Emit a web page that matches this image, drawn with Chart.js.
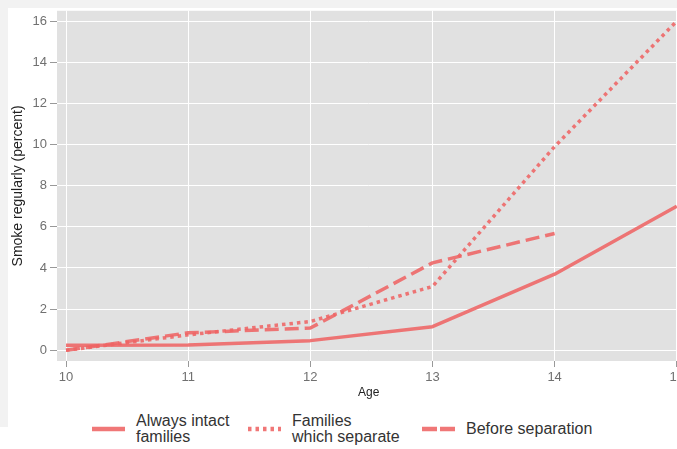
<!DOCTYPE html>
<html>
<head>
<meta charset="utf-8">
<script src="https://cdn.jsdelivr.net/npm/chart.js@4"></script>
<style>
  html, body { margin: 0; padding: 0; }
  body { width: 677px; height: 449px; background: #f2f2f2; position: relative; overflow: hidden; font-family: "Liberation Sans", Arial, sans-serif; }
  #card { position: absolute; left: 8px; top: 8px; width: 669px; height: 441px; background: #fff; }
  #bottomband { position: absolute; left: 0; top: 427px; width: 677px; height: 22px; background: #fff; }
  #wrap { position: absolute; left: 8px; top: 0px; width: 679px; height: 400px; }
  #legend { position: absolute; left: 0; top: 412px; width: 677px; height: 34px; color: #333; font-size: 16px; line-height: 16px; }
  .item { position: absolute; top: 0; height: 34px; display: flex; align-items: center; }
  .item svg { margin-right: 11px; flex: none; }
</style>
</head>
<body>
<div id="card"></div>
<div id="bottomband"></div>
<div id="wrap"><canvas id="c"></canvas></div>
<div id="legend"></div>
<script>
// ---- data ----
const ages = [10, 11, 12, 13, 14, 15];
const alwaysIntact = [0.24, 0.26, 0.47, 1.15, 3.7, 7.0];
const familiesSeparate = [0.0, 0.75, 1.4, 3.1, 9.9, 16.0];
const beforeSeparation = [0.0, 0.85, 1.08, 4.25, 5.68];
const yTickValues = [0, 2, 4, 6, 8, 10, 12, 14, 16];
const xTickValues = [10, 11, 12, 13, 14, 15];
const seriesLabels = [["Always intact", "families"], ["Families", "which separate"], ["Before separation"]];
const yTitle = "Smoke regularly (percent)";
const xTitle = "Age";

const lineColor = "rgba(238,100,100,0.88)";
const toPts = vals => vals.map((v, i) => ({ x: ages[i], y: v }));
const dashes = [[], [3.5, 4], [14, 6]];
const seriesValues = [alwaysIntact, familiesSeparate, beforeSeparation];

const datasets = seriesValues.map((vals, i) => ({
  label: seriesLabels[i].join(" "),
  data: toPts(vals),
  borderColor: lineColor,
  borderWidth: 3.5,
  borderDash: dashes[i],
  borderCapStyle: "butt",
  borderJoinStyle: "round",
  pointRadius: 0,
  tension: 0,
  fill: false
}));

const bgPlugin = {
  id: "plotbg",
  beforeDraw(chart) {
    const { ctx, chartArea: a } = chart;
    ctx.save();
    ctx.fillStyle = "#e1e1e1";
    ctx.fillRect(a.left, a.top, a.right - a.left, a.bottom - a.top);
    ctx.restore();
  }
};

new Chart(document.getElementById("c"), {
  type: "line",
  data: { datasets },
  plugins: [bgPlugin],
  options: {
    responsive: true,
    maintainAspectRatio: false,
    animation: false,
    layout: { padding: 0 },
    plugins: { legend: { display: false }, tooltip: { enabled: false } },
    scales: {
      x: {
        type: "linear",
        min: 9.926,
        max: 15.03,
        afterBuildTicks: s => { s.ticks = xTickValues.map(v => ({ value: v })); },
        afterFit: s => { s.height = 39; },
        grid: { color: "#ffffff", lineWidth: 1, tickColor: "#999", tickLength: 6, drawTicks: true },
        border: { display: false },
        ticks: { color: "#707070", font: { size: 13, family: "Liberation Sans" }, padding: 3, maxRotation: 0 },
        title: { display: true, text: xTitle, color: "#222", font: { size: 12, family: "Liberation Sans" }, padding: { top: 0, bottom: 0 } }
      },
      y: {
        min: -0.52,
        max: 16.5,
        afterBuildTicks: s => { s.ticks = yTickValues.map(v => ({ value: v })); },
        afterFit: s => { s.width = 49; },
        grid: { color: "#ffffff", lineWidth: 1, tickColor: "#999", tickLength: 7 },
        border: { display: false },
        ticks: { color: "#707070", font: { size: 13, family: "Liberation Sans" }, padding: 3 },
        title: { display: true, text: yTitle, color: "#222", font: { size: 14, family: "Liberation Sans" }, padding: { top: 2, bottom: 0 } }
      }
    }
  }
});

// ---- HTML legend built from the series ----
const legend = document.getElementById("legend");
const itemLefts = [92, 248, 422];
seriesLabels.forEach((lines, i) => {
  const item = document.createElement("div");
  item.className = "item";
  item.style.left = itemLefts[i] + "px";
  const dash = dashes[i].length ? `stroke-dasharray="${i === 1 ? '3.5,4' : '15,3'}"` : "";
  item.innerHTML = `<svg width="33" height="8"><line x1="0" y1="4" x2="33" y2="4" stroke="${lineColor}" stroke-width="4.5" ${dash}/></svg>`;
  const txt = document.createElement("div");
  txt.innerHTML = lines.join("<br>");
  item.appendChild(txt);
  legend.appendChild(item);
});
</script>
</body>
</html>
